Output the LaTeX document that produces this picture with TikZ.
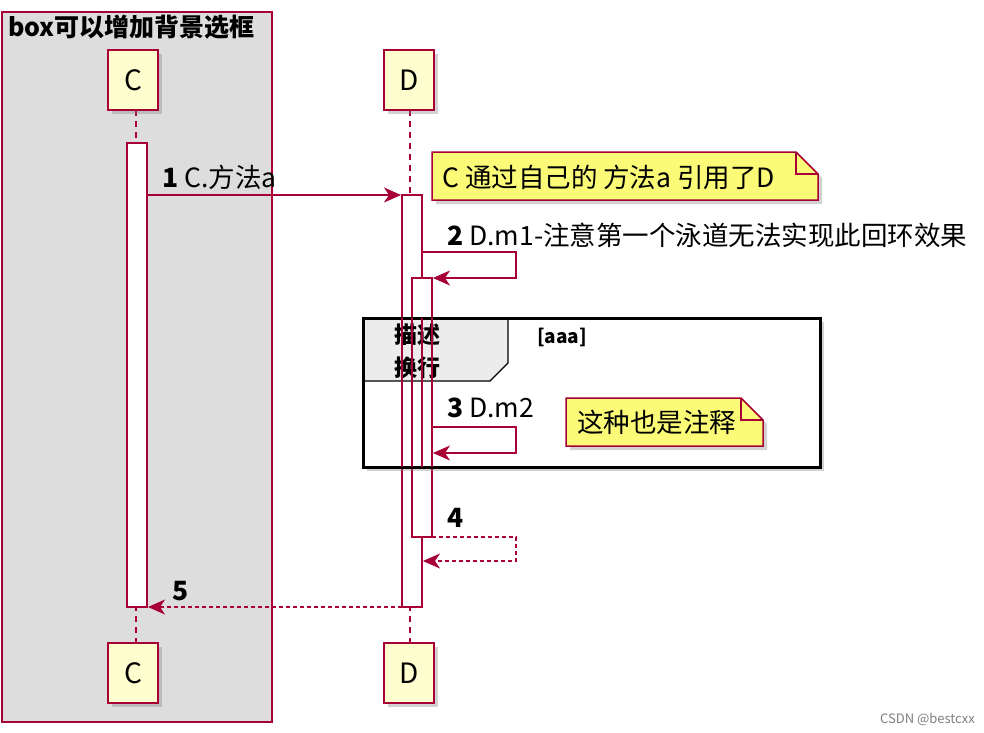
\documentclass[tikz,border=0pt]{standalone}
\usepackage{fontspec}
\setmainfont{Noto Sans CJK SC}
\usetikzlibrary{arrows.meta,shadows}
\definecolor{crim}{HTML}{A80036}
\definecolor{pfill}{HTML}{FEFECE}
\definecolor{nfill}{HTML}{FBFB77}
\definecolor{boxg}{HTML}{DDDDDD}
\tikzset{
 part/.style={draw=crim,fill=pfill,line width=2pt,minimum width=50pt,minimum height=60pt,font=\fontsize{28}{30}\selectfont,drop shadow={opacity=0.35,shadow xshift=4pt,shadow yshift=-4pt}},
 act/.style={draw=crim,fill=white,line width=1.5pt},
 msg/.style={draw=crim,line width=1.5pt,-{Stealth[length=17pt,width=15pt,inset=5pt]}},
 rmsg/.style={msg,dash pattern=on 4pt off 3pt},
 lab/.style={anchor=base west,font=\fontsize{26.5}{28}\selectfont,inner sep=0pt},
 life/.style={draw=crim,line width=1.3pt,dash pattern=on 6pt off 5pt},
 notebox/.style={draw=crim,fill=nfill,line width=1.5pt},
}
\begin{document}
\begin{tikzpicture}[x=1pt,y=-1pt]
\useasboundingbox (0,0) rectangle (984,732);
\fill[white] (0,0) rectangle (984,732);
% box
\draw[crim,fill=boxg,line width=2pt] (2,12) rectangle (272,722);
\node[lab,font=\fontsize{25}{27}\selectfont\bfseries] (boxt) at (8,36) {box可以增加背景选框};
% lifelines
\coordinate (c1) at (136,110); \coordinate (c2) at (136,643);
\coordinate (d1) at (410,110); \coordinate (d2) at (410,643);
\draw[life] (c1) -- (c2);
\draw[life] (d1) -- (d2);
% participants
\node[part] (C) at (133,80) {C};
\node[part] (D) at (409,80) {D};
\node[part] (Cb) at (133,673) {C};
\node[part] (Db) at (409,673) {D};
% activations
\draw[act] (127,143) rectangle (147,607);
\draw[act] (402,195) rectangle (422,607);
\draw[act] (412,278) rectangle (432,537);
% message 1
\coordinate (m1a) at (147,195); \coordinate (m1b) at (401,195);
\draw[msg] (m1a) -- (m1b);
\node[lab] (l1) at (162,187) {\textbf{1} C.方法a};
% note 1
\draw[notebox,drop shadow={opacity=0.35,shadow xshift=4pt,shadow yshift=-4pt}] (432,152) -- (796,152) -- (818,174) -- (818,200) -- (432,200) -- cycle;
\draw[crim,line width=1.5pt] (796,152) -- (796,174) -- (818,174);
\node[lab] (n1) at (442,187) {C 通过自己的 方法a 引用了D};
% message 2
\coordinate (m2a) at (422,252); \coordinate (m2b) at (433,278);
\draw[msg] (m2a) -- (516,252) -- (516,278) -- (m2b);
\node[lab] (l2) at (447,245) {\textbf{2} D.m1-注意第一个泳道无法实现此回环效果};
% group
\draw[black,line width=3pt,fill=none,drop shadow={opacity=0.35,shadow xshift=4pt,shadow yshift=-4pt}] (363,318) rectangle (820,467);
\draw[black,line width=1pt,fill=white] (363,318) rectangle (820,467);
\draw[black,line width=1.3pt,fill=gray!15] (363,318) -- (508,318) -- (508,363) -- (490,381) -- (363,381) -- cycle;
\draw[black,line width=3pt] (363,318) rectangle (820,467);
\node[lab,font=\fontsize{23}{25}\selectfont\bfseries] (g1) at (394,343) {描述};
\node[lab,font=\fontsize{23}{25}\selectfont\bfseries] (g2) at (394,376) {换行};
\node[lab,font=\fontsize{19}{21}\selectfont\bfseries] (g3) at (537,343) {[aaa]};
% redraw activations over group
\draw[act,fill=none] (402,318) -- (402,467) (422,318) -- (422,467);
\draw[act,fill=none] (412,318) -- (412,467) (432,318) -- (432,467);
% message 3
\coordinate (m3a) at (432,427); \coordinate (m3b) at (433,453);
\draw[msg] (m3a) -- (516,427) -- (516,453) -- (m3b);
\node[lab] (l3) at (447,417) {\textbf{3} D.m2};
% note 2
\draw[notebox,drop shadow={opacity=0.35,shadow xshift=4pt,shadow yshift=-4pt}] (566,398) -- (741,398) -- (763,420) -- (763,446) -- (566,446) -- cycle;
\draw[crim,line width=1.5pt] (741,398) -- (741,420) -- (763,420);
\node[lab] (n2) at (577,432) {这种也是注释};
% message 4
\coordinate (m4a) at (432,537); \coordinate (m4b) at (423,561);
\draw[rmsg] (m4a) -- (516,537) -- (516,561) -- (m4b);
\node[lab] (l4) at (447,527) {\textbf{4}};
% message 5
\coordinate (m5a) at (402,607); \coordinate (m5b) at (148,607);
\draw[rmsg] (m5a) -- (m5b);
\node[lab] (l5) at (172,600) {\textbf{5}};
% watermark
\node[anchor=base east,font=\fontsize{13}{14}\selectfont,text=gray,inner sep=0pt] (wm) at (975,723) {CSDN @bestcxx};
\end{tikzpicture}
\end{document}
